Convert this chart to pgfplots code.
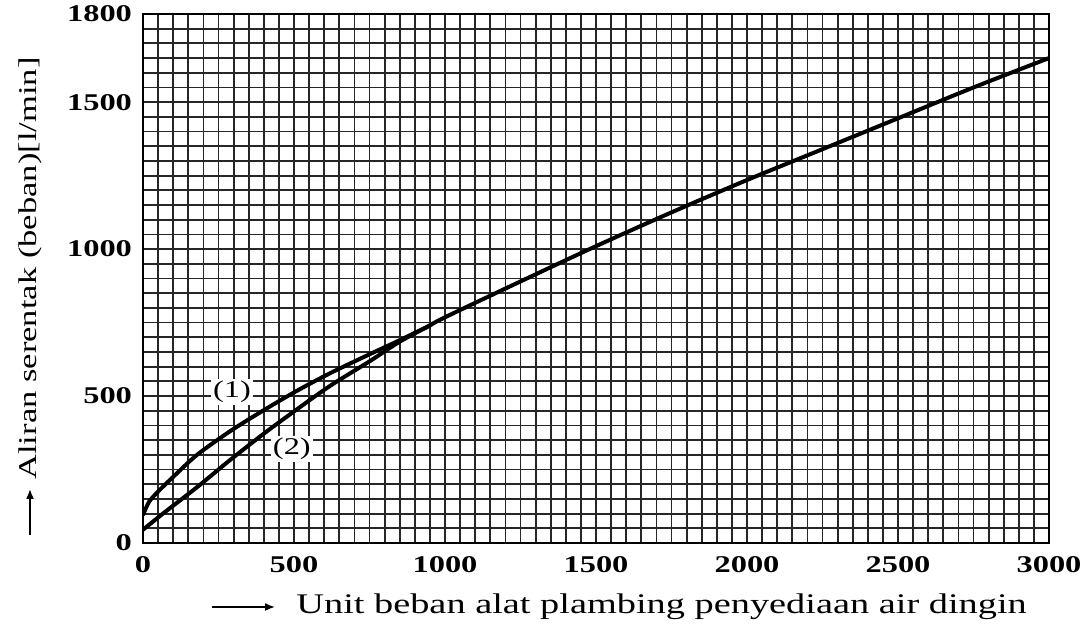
\documentclass[border=0pt]{standalone}
\usepackage{fontspec}
\setmainfont{Liberation Serif}[FakeStretch=1.35]
\usepackage{pgfplots}
\pgfplotsset{compat=1.18}
\usetikzlibrary{arrows.meta}
\begin{document}
\begin{tikzpicture}
\path[use as bounding box] (-71.5pt,-41pt) rectangle (474pt,271.5pt);
\begin{axis}[
  scale only axis,
  width=453pt, height=264.5pt,
  xmin=0, xmax=3000, ymin=0, ymax=1800,
  xtick={0,500,...,3000},
  ytick={0,500,1000,1500,1800},
  minor xtick={0,50,...,3000},
  minor ytick={0,50,...,1800},
  grid=both,
  major grid style={black!85, line width=0.9pt},
  minor grid style={black!85, line width=0.9pt},
  axis line style={black, line width=1.1pt},
  major tick length=0pt, minor tick length=0pt,
  /pgf/number format/assume math mode=true,
  /pgf/number format/set thousands separator={},
  tick label style={font=\bfseries\fontsize{12}{13}\selectfont},
  xticklabel style={yshift=-3pt},
  yticklabel style={xshift=-2pt},
]
\addplot[black, line width=2pt, smooth] coordinates {
 (0,95) (20,140) (50,175) (100,225) (179,300) (288,380) (400,452)
 (510,518) (620,578) (750,642) (850,690) (950,740)
};
\addplot[black, line width=2pt, smooth] coordinates {
 (0,45) (66,100) (179,190) (288,282) (400,372) (510,455) (620,535)
 (750,618) (850,685) (950,740)
};
\addplot[black, line width=2pt, smooth] coordinates {
 (950,740) (1000,768) (1250,890) (1500,1010) (1750,1125) (2000,1235)
 (2250,1340) (2500,1445) (2750,1550) (3000,1650)
};
\node[font=\fontsize{12}{14}\selectfont, fill=white, inner sep=1pt] at (axis cs:295,514) {(1)};
\node[font=\fontsize{12}{14}\selectfont, fill=white, inner sep=1pt] at (axis cs:493,320) {(2)};
\end{axis}
\draw[-{Latex[length=5pt,width=4pt]}, line width=0.8pt] (34.5pt,-32pt) -- (66pt,-32pt);
\node[anchor=west, font=\fontsize{14.2}{16}\selectfont, inner sep=0pt] at (76.5pt,-32pt) {Unit beban alat plambing penyediaan air dingin};
\draw[-{Latex[length=5pt,width=4pt]}, line width=0.8pt] (-56.5pt,4pt) -- (-56.5pt,27pt);
\node[anchor=west, rotate=90, font=\fontsize{12.8}{15}\selectfont, inner sep=0pt] at (-56.5pt,31.5pt) {Aliran serentak (beban)[l/min]};
\end{tikzpicture}
\end{document}
